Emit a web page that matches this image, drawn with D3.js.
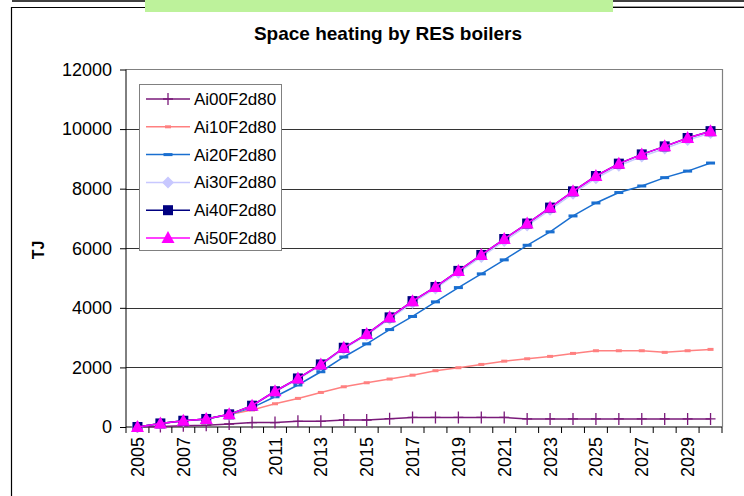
<!DOCTYPE html>
<html><head><meta charset="utf-8">
<script src="https://cdn.jsdelivr.net/npm/d3@7"></script>
<style>body{margin:0;background:#fff}svg{display:block;font-family:"Liberation Sans",Arial,sans-serif}</style>
</head><body><svg id="c" width="744" height="496"></svg>
<script>
const years = [2005,2006,2007,2008,2009,2010,2011,2012,2013,2014,2015,2016,2017,2018,2019,2020,2021,2022,2023,2024,2025,2026,2027,2028,2029,2030];
const yTicks = [0,2000,4000,6000,8000,10000,12000];
const seriesNames = ["Ai00F2d80","Ai10F2d80","Ai20F2d80","Ai30F2d80","Ai40F2d80","Ai50F2d80"];
const ai00 = [0,20,40,60,100,150,150,190,190,235,235,280,320,320,320,320,320,270,270,270,270,270,270,270,270,270];
const ai10 = [0,120,210,270,420,570,780,960,1160,1350,1485,1610,1740,1890,1990,2100,2210,2290,2370,2470,2560,2560,2560,2505,2560,2605];
const ai20 = [0,120,210,270,420,650,1015,1410,1855,2350,2790,3270,3710,4200,4680,5140,5610,6100,6550,7085,7520,7870,8090,8370,8590,8860];
const ai30 = [0,115,205,265,415,700,1180,1600,2070,2620,3080,3630,4170,4650,5180,5710,6240,6760,7290,7830,8350,8770,9080,9350,9630,9870];
const ai40 = [0,120,210,270,425,715,1200,1630,2100,2660,3120,3680,4225,4700,5240,5775,6310,6830,7365,7910,8425,8840,9150,9420,9700,9930];
const ai50 = [0,120,210,270,425,715,1200,1630,2100,2660,3120,3680,4225,4700,5240,5775,6310,6830,7365,7910,8425,8840,9150,9420,9700,9930];
const seriesValues = [ai00, ai10, ai20, ai30, ai40, ai50];
const colors = ["#7a1a7a","#ff8080","#1a6fd0","#c8c8ff","#000080","#ff00ff"];
const markers = ["plus","dash","dashw","diamond","square","triangle"];

const svg = d3.select("#c");
const L = 126, R = 722, T = 69.5, B = 427;

// decorations
svg.append("line").attr("x1",12).attr("x2",744).attr("y1",1).attr("y2",1).attr("stroke","#000").attr("stroke-width",1.5);
svg.append("line").attr("x1",613).attr("x2",744).attr("y1",6.5).attr("y2",6.5).attr("stroke","#999").attr("stroke-width",1);
svg.append("path").attr("d","M11.5,500V7.5H744").attr("fill","none").attr("stroke","#000").attr("stroke-width",1.2);
svg.append("rect").attr("x",145).attr("y",0).attr("width",468).attr("height",12).attr("fill","#bdf29b");

svg.append("text").attr("x",388).attr("y",40).attr("text-anchor","middle").attr("font-size",19).attr("font-weight","bold").text("Space heating by RES boilers");

const x = d3.scaleBand().domain(years).range([L,R]).padding(0);
const y = d3.scaleLinear().domain([0,12000]).range([B,T]);
const cx = d => x(d) + x.bandwidth()/2;

// grid
svg.append("g").selectAll("line").data(yTicks.filter(v=>v>0 && v<12000)).join("line")
  .attr("x1",L).attr("x2",R).attr("y1",d=>Math.round(y(d))+0.5).attr("y2",d=>Math.round(y(d))+0.5).attr("stroke","#333").attr("stroke-width",1);
// plot border top/right
svg.append("path").attr("d",`M${L},${T}H${R+0.5}V${B}`).attr("fill","none").attr("stroke","#808080").attr("stroke-width",1.2);

// y axis
const ya = svg.append("g").attr("transform",`translate(${L},0)`)
  .call(d3.axisLeft(y).tickValues(yTicks).tickSize(6).tickPadding(8).tickFormat(d3.format("d")));
ya.select(".domain").remove();
ya.append("line").attr("x1",0).attr("x2",0).attr("y1",T).attr("y2",B+6).attr("stroke","#000");
ya.selectAll("text").attr("font-size",18).attr("font-family","Liberation Sans, Arial").attr("fill","#000");

// x axis
const xa = svg.append("g").attr("transform",`translate(0,${B})`);
xa.append("line").attr("x1",L).attr("x2",R).attr("stroke","#000");
xa.selectAll("line.t").data(years).join("line").attr("class","t")
  .attr("x1",d=>x(d)+x.bandwidth()).attr("x2",d=>x(d)+x.bandwidth()).attr("y1",0).attr("y2",6).attr("stroke","#000");
xa.selectAll("text").data(years.filter((d,i)=>i%2===0)).join("text")
  .attr("transform",d=>`translate(${cx(d)+6.5},10) rotate(-90)`).attr("text-anchor","end")
  .attr("font-size",18).attr("fill","#000").text(d=>d);

svg.append("text").attr("transform","translate(44,250) rotate(-90)").attr("text-anchor","middle")
  .attr("font-size",16).attr("font-weight","bold").text("TJ");

function drawMarker(g, type, color){
  if(type==="plus"){
    g.append("path").attr("d","M-5,0H5M0,-6V6").attr("stroke",color).attr("stroke-width",1.3);
  } else if(type==="dash"){
    g.append("rect").attr("x",-3).attr("y",-1.5).attr("width",6).attr("height",3).attr("fill",color);
  } else if(type==="dashw"){
    g.append("rect").attr("x",-4.5).attr("y",-1.5).attr("width",9).attr("height",3).attr("fill",color);
  } else if(type==="diamond"){
    g.append("path").attr("d","M0,-6L6,0L0,6L-6,0Z").attr("fill",color);
  } else if(type==="square"){
    g.append("rect").attr("x",-5).attr("y",-5).attr("width",10).attr("height",10).attr("fill",color);
  } else if(type==="triangle"){
    g.append("path").attr("d","M0,-7L6.5,5L-6.5,5Z").attr("fill",color);
  }
}

const line = d3.line().x((d,i)=>cx(years[i])).y(d=>y(d));
seriesValues.forEach((vals,si)=>{
  svg.append("path").datum(vals).attr("d",line).attr("fill","none").attr("stroke",colors[si]).attr("stroke-width",1.5);
  vals.forEach((v,i)=>{
    const g = svg.append("g").attr("transform",`translate(${cx(years[i])},${y(v)})`);
    drawMarker(g, markers[si], colors[si]);
  });
});

// legend
const lg = svg.append("g");
lg.append("rect").attr("x",139.5).attr("y",84.5).attr("width",142).attr("height",166).attr("fill","#fff").attr("stroke","#808080").attr("stroke-width",1);
seriesNames.forEach((n,i)=>{
  const yy = 99 + i*27.8;
  lg.append("line").attr("x1",146).attr("x2",190).attr("y1",yy).attr("y2",yy).attr("stroke",colors[i]).attr("stroke-width",1.5);
  drawMarker(lg.append("g").attr("transform",`translate(168,${yy})`), markers[i], colors[i]);
  lg.append("text").attr("x",194).attr("y",yy+6).attr("font-size",17).attr("fill","#000").text(n);
});
</script></body></html>
